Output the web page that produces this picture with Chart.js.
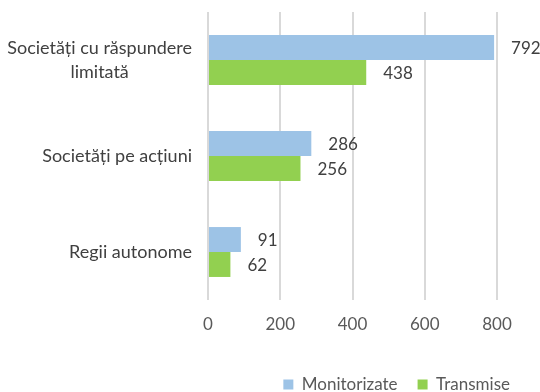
<!DOCTYPE html>
<html>
<head>
<meta charset="utf-8">
<script src="https://cdn.jsdelivr.net/npm/chart.js@4.4.1/dist/chart.umd.min.js"></script>
<style>
  html, body { margin: 0; padding: 0; background: #fff; }
  #wrap { width: 540px; height: 392px; }
</style>
</head>
<body>
<div id="wrap"><canvas id="chart"></canvas></div>
<script>
const categories = [['Societăți cu răspundere', 'limitată'], ['Societăți pe acțiuni'], ['Regii autonome']];
const monitorizate = [792, 286, 91];
const transmise = [438, 256, 62];
const xTicks = [0, 200, 400, 600, 800];

const FONT = 'Lato, sans-serif';
const TEXT = '#404040';

// category names on the left: right-aligned block, lines centered inside it
const catLabels = {
    id: 'catLabels',
    afterDraw(chart) {
        const ctx = chart.ctx;
        const y = chart.scales.y;
        ctx.save();
        ctx.font = '18px ' + FONT;
        ctx.fillStyle = TEXT;
        ctx.textAlign = 'center';
        ctx.textBaseline = 'middle';
        const right = 192, lh = 24;
        categories.forEach((lines, i) => {
            const cy = y.getPixelForValue(i);
            const w = Math.max(...lines.map(l => ctx.measureText(l).width));
            const cx = right - w / 2;
            lines.forEach((l, j) => {
                ctx.fillText(l, cx, cy + (j - (lines.length - 1) / 2) * lh);
            });
        });
        ctx.restore();
    }
};

// value printed after the end of each bar
const valueLabels = {
    id: 'valueLabels',
    afterDatasetsDraw(chart) {
        const ctx = chart.ctx;
        ctx.save();
        ctx.font = '17px ' + FONT;
        ctx.fillStyle = TEXT;
        ctx.textAlign = 'left';
        ctx.textBaseline = 'middle';
        chart.data.datasets.forEach((ds, di) => {
            chart.getDatasetMeta(di).data.forEach((bar, i) => {
                ctx.fillText(String(ds.data[i]), bar.x + 17, bar.y + 1);
            });
        });
        ctx.restore();
    }
};

// push the legend row down towards the bottom edge
const legendShift = {
    id: 'legendShift',
    afterLayout(chart) {
        chart.legend.top += 11;
        chart.legend.bottom += 11;
    }
};

new Chart(document.getElementById('chart'), {
    type: 'bar',
    data: {
        labels: categories.map(c => c.join(' ')),
        datasets: [
            { label: 'Monitorizate', data: monitorizate, backgroundColor: '#9dc3e6' },
            { label: 'Transmise', data: transmise, backgroundColor: '#92d050' }
        ]
    },
    options: {
        indexAxis: 'y',
        responsive: true,
        maintainAspectRatio: false,
        animation: false,
        datasets: { bar: { categoryPercentage: 0.52, barPercentage: 1.0 } },
        layout: { padding: { top: 12, right: 10, left: 0, bottom: 0 } },
        scales: {
            x: {
                min: 0,
                max: 800,
                afterBuildTicks: s => { s.ticks = xTicks.map(v => ({ value: v })); },
                afterFit: s => { s.height = 45; },
                grid: { color: '#d9d9d9', lineWidth: 2, drawTicks: false },
                border: { display: false },
                ticks: { padding: 14, color: '#595959', font: { family: FONT, size: 17 } }
            },
            y: {
                afterFit: s => { s.width = 208; },
                grid: { display: false },
                border: { display: false },
                ticks: { display: false }
            },
            pad: {
                axis: 'y',
                position: 'right',
                afterFit: s => { s.width = 33; },
                grid: { display: false },
                border: { display: false },
                ticks: { display: false }
            }
        },
        plugins: {
            legend: {
                position: 'bottom',
                align: 'end',
                labels: {
                    boxWidth: 10,
                    boxHeight: 10,
                    padding: 20,
                    color: '#595959',
                    font: { family: FONT, size: 17 }
                }
            },
            tooltip: { enabled: false }
        }
    },
    plugins: [catLabels, valueLabels, legendShift]
});
</script>
</body>
</html>
